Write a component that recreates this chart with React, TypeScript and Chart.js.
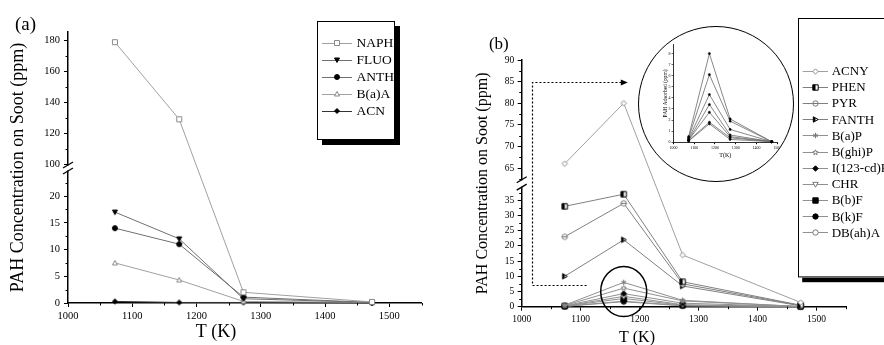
import React, { useEffect, useRef } from 'react';
import { Chart, registerables } from 'chart.js';

Chart.register(...registerables);

const SERIF = "'Liberation Serif', 'Times New Roman', Times, serif";
Chart.defaults.color = '#000';
Chart.defaults.font.family = SERIF;

// ---------------- data ----------------
const TEMPS = [1073, 1173, 1273, 1473];

// panel (a)
const NAPH = [179, 129, 2, 0.2];
const FLUO = [17, 12, 0.8, 0.1];
const ANTH = [14, 11, 1.1, 0.1];
const BAA = [7.5, 4.3, 0.3, 0.1];
const ACN = [0.3, 0.1, 0.1, 0];

// panel (b)
const ACNY = [66, 80, 17, 1.4];
const PHEN = [33, 37, 8.2, 0.5];
const PYR = [23, 34, 7.5, 0.4];
const FANTH = [10, 22, 6.8, 0.3];
const BAP = [0.5, 8.0, 2.1, 0.05];
const BGHIP = [0.4, 6.1, 1.9, 0.05];
const I123P = [0.3, 4.3, 1.15, 0.05];
const CHR = [0.2, 3.4, 0.65, 0.05];
const BBF = [0.2, 2.7, 0.5, 0.05];
const BKF = [0.15, 1.8, 0.4, 0.05];
const DBAHA = [0.1, 1.66, 0.25, 0.05];

// ticks
const X_TICKS = [1000, 1100, 1200, 1300, 1400, 1500];
const X_MINOR = [1050, 1150, 1250, 1350, 1450, 1550];
const Y_TICKS_A = [0, 5, 10, 15, 20, 100, 120, 140, 160, 180];
const Y_MINOR_A = [2.5, 7.5, 12.5, 17.5, 22.5, 110, 130, 150, 170];
const Y_TICKS_B = [0, 5, 10, 15, 20, 25, 30, 35, 65, 70, 75, 80, 85, 90];
const Y_MINOR_B = [2.5, 7.5, 12.5, 17.5, 22.5, 27.5, 32.5, 37.5, 62.5, 67.5, 72.5, 77.5, 82.5, 87.5];
const INSET_X_TICKS = [1000, 1100, 1200, 1300, 1400, 1500];
const INSET_Y_TICKS = [0, 1, 2, 3, 4, 5, 6, 7, 8];

// broken axis definitions (value ranges of the two segments)
const BRK_A = { lowMax: 24.5, highMin: 100, highMax: 185.6, lowFrac: 0.4834, gapFrac: 0.0295 };
const BRK_B = { lowMax: 39, highMin: 62.5, highMax: 90, lowFrac: 0.4807, gapFrac: 0.0377 };

// annotations of panel (b), in data units
const ARROW_B = { xStart: 1110, xLeft: 1018, yBottom: 7, yTop: 85, xTip: 1180 };
const RING_B = { x: 1173, y: 5, rx: 23, ry: 25 };

type Series = { label: string; data: number[]; marker: string; color: string; line: string };

const SERIES_A: Series[] = [
  { label: 'NAPH', data: NAPH, marker: 'sq', color: '#8a8a8a', line: '#a0a0a0' },
  { label: 'FLUO', data: FLUO, marker: 'triDF', color: '#000', line: '#707070' },
  { label: 'ANTH', data: ANTH, marker: 'ciF', color: '#000', line: '#707070' },
  { label: 'B(a)A', data: BAA, marker: 'tri', color: '#8a8a8a', line: '#a0a0a0' },
  { label: 'ACN', data: ACN, marker: 'diaF', color: '#000', line: '#333333' },
];

const SERIES_B: Series[] = [
  { label: 'ACNY', data: ACNY, marker: 'dia', color: '#8a8a8a', line: '#a0a0a0' },
  { label: 'PHEN', data: PHEN, marker: 'sqH', color: '#000', line: '#808080' },
  { label: 'PYR', data: PYR, marker: 'ciBar', color: '#777', line: '#808080' },
  { label: 'FANTH', data: FANTH, marker: 'triRH', color: '#000', line: '#808080' },
  { label: 'B(a)P', data: BAP, marker: 'ast', color: '#777', line: '#909090' },
  { label: 'B(ghi)P', data: BGHIP, marker: 'star', color: '#777', line: '#909090' },
  { label: 'I(123-cd)P', data: I123P, marker: 'diaF', color: '#000', line: '#909090' },
  { label: 'CHR', data: CHR, marker: 'triD', color: '#777', line: '#909090' },
  { label: 'B(b)F', data: BBF, marker: 'sqF', color: '#000', line: '#909090' },
  { label: 'B(k)F', data: BKF, marker: 'ciF', color: '#000', line: '#909090' },
  { label: 'DB(ah)A', data: DBAHA, marker: 'ci', color: '#777', line: '#909090' },
];

const INSET_SERIES = [BAP, BGHIP, I123P, CHR, BBF, BKF, DBAHA];

// ---------------- helpers ----------------
function paintMarker(ctx: CanvasRenderingContext2D, k: string, cx: number, cy: number, r: number, col: string) {
  ctx.save();
  ctx.lineWidth = 1;
  ctx.strokeStyle = col;
  const filled = k.endsWith('F');
  ctx.beginPath();
  if (k.startsWith('sq')) ctx.rect(cx - r, cy - r, 2 * r, 2 * r);
  else if (k.startsWith('ci')) ctx.arc(cx, cy, r, 0, Math.PI * 2);
  else if (k === 'tri') {
    ctx.moveTo(cx, cy - r); ctx.lineTo(cx + r, cy + r * 0.8); ctx.lineTo(cx - r, cy + r * 0.8); ctx.closePath();
  } else if (k.startsWith('triD')) {
    ctx.moveTo(cx, cy + r); ctx.lineTo(cx + r, cy - r * 0.8); ctx.lineTo(cx - r, cy - r * 0.8); ctx.closePath();
  } else if (k === 'triRH') {
    ctx.moveTo(cx + r, cy); ctx.lineTo(cx - r * 0.8, cy - r); ctx.lineTo(cx - r * 0.8, cy + r); ctx.closePath();
  } else if (k.startsWith('dia')) {
    ctx.moveTo(cx, cy - r); ctx.lineTo(cx + r, cy); ctx.lineTo(cx, cy + r); ctx.lineTo(cx - r, cy); ctx.closePath();
  } else if (k === 'star') {
    for (let i = 0; i < 10; i++) {
      const a = -Math.PI / 2 + (i * Math.PI) / 5;
      const rr = i % 2 === 0 ? r : r * 0.45;
      const px = cx + rr * Math.cos(a);
      const py = cy + rr * Math.sin(a);
      if (i === 0) ctx.moveTo(px, py); else ctx.lineTo(px, py);
    }
    ctx.closePath();
  }
  if (k === 'ast') {
    for (const deg of [90, 30, 150]) {
      const a = (deg * Math.PI) / 180;
      ctx.moveTo(cx - r * Math.cos(a), cy - r * Math.sin(a));
      ctx.lineTo(cx + r * Math.cos(a), cy + r * Math.sin(a));
    }
    ctx.stroke();
  } else {
    ctx.fillStyle = filled ? col : '#fff';
    ctx.fill();
    ctx.stroke();
    if (k === 'sqH' || k === 'triRH') {
      ctx.save();
      ctx.clip();
      ctx.fillStyle = col;
      ctx.fillRect(cx - r - 1, cy - r - 1, r + 1, 2 * r + 2);
      ctx.restore();
    }
    if (k === 'ciBar') {
      ctx.beginPath(); ctx.moveTo(cx - r, cy); ctx.lineTo(cx + r, cy); ctx.stroke();
    }
  }
  ctx.restore();
}

function markerCanvas(kind: string, r: number, col: string) {
  const s = Math.ceil(2 * r + 3);
  const c = document.createElement('canvas');
  c.width = s; c.height = s;
  const ctx = c.getContext('2d')!;
  paintMarker(ctx, kind, s / 2, s / 2, r, col);
  return c;
}

function brokenPixel(s: any, v: number, b: typeof BRK_A) {
  let f: number;
  if (v <= b.lowMax) f = (v / b.lowMax) * b.lowFrac;
  else if (v >= b.highMin) f = b.lowFrac + b.gapFrac + ((v - b.highMin) / (b.highMax - b.highMin)) * (1 - b.lowFrac - b.gapFrac);
  else f = b.lowFrac + (b.gapFrac * (v - b.lowMax)) / (b.highMin - b.lowMax);
  return s.bottom - f * (s.bottom - s.top);
}

function drawMinor(ctx: CanvasRenderingContext2D, xs: any, ys: any, xm: number[], ym: number[], len: number) {
  ctx.save();
  ctx.strokeStyle = '#000';
  ctx.lineWidth = 1;
  ctx.beginPath();
  for (const v of xm) {
    const px = Math.round(xs.getPixelForValue(v)) + 0.5;
    ctx.moveTo(px, xs.top); ctx.lineTo(px, xs.top + len);
  }
  for (const v of ym) {
    const py = Math.round(ys.getPixelForValue(v)) + 0.5;
    ctx.moveTo(ys.right, py); ctx.lineTo(ys.right - len, py);
  }
  ctx.stroke();
  ctx.restore();
}

function drawBreak(ctx: CanvasRenderingContext2D, ys: any, b: typeof BRK_A) {
  const ax = ys.right;
  const yLo = ys.getPixelForValue(b.lowMax);
  const yHi = ys.getPixelForValue(b.highMin);
  ctx.save();
  ctx.fillStyle = '#fff';
  ctx.fillRect(ax - 3, yHi + 1.5, 6, yLo - yHi - 3);
  ctx.strokeStyle = '#000';
  ctx.lineWidth = 1.3;
  for (const yy of [yHi + 1, yLo - 1]) {
    ctx.beginPath(); ctx.moveTo(ax - 5, yy + 3); ctx.lineTo(ax + 5, yy - 3); ctx.stroke();
  }
  ctx.restore();
}

type Leg = { x: number; y: number; w: number; h: number; sh: number; l0: number; l1: number; m: number; t: number; y0: number; dy: number; font: number };

function drawLegend(ctx: CanvasRenderingContext2D, series: Series[], L: Leg, marks: HTMLCanvasElement[]) {
  ctx.save();
  ctx.fillStyle = '#000';
  ctx.fillRect(L.x + L.sh, L.y + L.sh, L.w, L.h);
  ctx.fillStyle = '#fff';
  ctx.fillRect(L.x, L.y, L.w, L.h);
  ctx.strokeStyle = '#000';
  ctx.lineWidth = 1;
  ctx.strokeRect(Math.round(L.x) + 0.5, Math.round(L.y) + 0.5, L.w - 1, L.h - 1);
  ctx.font = `${L.font}px ${SERIF}`;
  ctx.textBaseline = 'middle';
  ctx.textAlign = 'left';
  series.forEach((s, i) => {
    const y = L.y0 + i * L.dy;
    ctx.strokeStyle = s.line;
    ctx.beginPath();
    ctx.moveTo(L.l0, Math.round(y) + 0.5);
    ctx.lineTo(L.l1, Math.round(y) + 0.5);
    ctx.stroke();
    const m = marks[i];
    ctx.drawImage(m, Math.round(L.m - m.width / 2), Math.round(y + 0.5 - m.height / 2));
    ctx.fillStyle = '#000';
    ctx.fillText(s.label, L.t, y + 1);
  });
  ctx.restore();
}

function text(ctx: CanvasRenderingContext2D, s: string, x: number, y: number, size: number) {
  ctx.save();
  ctx.font = `${size}px ${SERIF}`;
  ctx.fillStyle = '#000';
  ctx.textAlign = 'center';
  ctx.textBaseline = 'middle';
  ctx.fillText(s, x, y);
  ctx.restore();
}

function makeDatasets(series: Series[], marks: HTMLCanvasElement[]) {
  return series.map((s, i) => ({
    label: s.label,
    data: TEMPS.map((t, j) => ({ x: t, y: s.data[j] })),
    borderColor: s.line,
    borderWidth: 1,
    pointStyle: marks[i],
    pointRadius: 3,
    pointHoverRadius: 3,
    tension: 0,
    fill: false,
    clip: false as any,
  }));
}

function xOpt(size: number, height: number, pad: number, ticks: number[], min: number, max: number, tl: number, bw: number, title?: any) {
  return {
    type: 'linear',
    min, max,
    afterBuildTicks: (s: any) => { s.ticks = ticks.map((v) => ({ value: v })); },
    afterFit: (s: any) => { s.height = height; },
    ticks: { autoSkip: false, maxRotation: 0, font: { size, family: SERIF }, color: '#000', padding: pad, callback: (v: any) => String(v) },
    grid: { drawOnChartArea: false, drawTicks: true, tickLength: tl, color: '#000', tickColor: '#000', tickWidth: 1 },
    border: { display: true, color: '#000', width: bw },
    title: title || { display: false },
  };
}

function yBrokenOpt(b: typeof BRK_A, ticks: number[], size: number, width: number, pad: number, title: any) {
  return {
    type: 'linear',
    min: 0,
    max: b.highMax,
    afterBuildTicks: (s: any) => {
      s.ticks = ticks.map((v) => ({ value: v }));
      s.getPixelForValue = (v: number) => brokenPixel(s, v, b);
    },
    afterFit: (s: any) => { s.width = width; },
    ticks: { autoSkip: false, font: { size, family: SERIF }, color: '#000', padding: pad, callback: (v: any) => String(v) },
    grid: { drawOnChartArea: false, drawTicks: true, tickLength: 4, color: '#000', tickColor: '#000', tickWidth: 1 },
    border: { display: true, color: '#000', width: 1.5 },
    title,
  };
}

const LEG_A: Leg = { x: 317, y: 21, w: 78, h: 119, sh: 5, l0: 322, l1: 352, m: 337, t: 356.5, y0: 42.7, dy: 17, font: 13.5 };
const LEG_B: Leg = { x: 357.7, y: 18.3, w: 140, h: 259.4, sh: 4.5, l0: 362.7, l1: 388, m: 375.3, t: 391.7, y0: 70.7, dy: 16.17, font: 13 };

export default function App() {
  const refA = useRef<HTMLCanvasElement>(null);
  const refB = useRef<HTMLCanvasElement>(null);
  const refC = useRef<HTMLCanvasElement>(null);

  useEffect(() => {
    const marksA = SERIES_A.map((s) => markerCanvas(s.marker, 2.5, s.color));
    const marksB = SERIES_B.map((s) => markerCanvas(s.marker, 2.7, s.color));

    const decorA = {
      id: 'decorA',
      afterDraw(chart: any) {
        const ctx = chart.ctx;
        const xs = chart.scales.x;
        const ys = chart.scales.y;
        drawMinor(ctx, xs, ys, X_MINOR, Y_MINOR_A, 2.5);
        drawBreak(ctx, ys, BRK_A);
        drawLegend(ctx, SERIES_A, LEG_A, marksA);
        text(ctx, '(a)', 25.5, 25, 19);
        text(ctx, 'T (K)', 216, 332, 18);
      },
    };

    const decorB = {
      id: 'decorB',
      afterDraw(chart: any) {
        const ctx = chart.ctx;
        const xs = chart.scales.x;
        const ys = chart.scales.y;
        drawMinor(ctx, xs, ys, X_MINOR, Y_MINOR_B, 2.5);
        drawBreak(ctx, ys, BRK_B);
        // dotted arrow
        const xS = xs.getPixelForValue(ARROW_B.xStart);
        const xL = xs.getPixelForValue(ARROW_B.xLeft);
        const xT = xs.getPixelForValue(ARROW_B.xTip);
        const yB = Math.round(ys.getPixelForValue(ARROW_B.yBottom)) + 0.5;
        const yT = Math.round(ys.getPixelForValue(ARROW_B.yTop)) + 0.5;
        ctx.save();
        ctx.strokeStyle = '#000';
        ctx.lineWidth = 1.2;
        ctx.setLineDash([2, 2]);
        ctx.beginPath();
        ctx.moveTo(xS, yB);
        ctx.lineTo(Math.round(xL) + 0.5, yB);
        ctx.lineTo(Math.round(xL) + 0.5, yT);
        ctx.lineTo(xT - 6, yT);
        ctx.stroke();
        ctx.setLineDash([]);
        ctx.fillStyle = '#000';
        ctx.beginPath();
        ctx.moveTo(xT, yT);
        ctx.lineTo(xT - 7, yT - 3);
        ctx.lineTo(xT - 7, yT + 3);
        ctx.closePath();
        ctx.fill();
        // ring around the small PAHs
        ctx.lineWidth = 1.5;
        ctx.beginPath();
        ctx.ellipse(xs.getPixelForValue(RING_B.x), ys.getPixelForValue(RING_B.y), RING_B.rx, RING_B.ry, 0, 0, Math.PI * 2);
        ctx.stroke();
        ctx.restore();
        drawLegend(ctx, SERIES_B, LEG_B, marksB);
        text(ctx, '(b)', 58.8, 44.5, 17);
        text(ctx, 'T (K)', 197, 338, 16);
      },
    };

    const decorC = {
      id: 'decorC',
      afterDraw(chart: any) {
        text(chart.ctx, '(c)', 28, 13.5, 5);
      },
    };

    const a = new Chart(refA.current!, {
      type: 'line',
      data: { datasets: makeDatasets(SERIES_A, marksA) as any },
      options: {
        responsive: false,
        animation: false,
        events: [],
        layout: { padding: { left: 0, top: 32, right: 18.5, bottom: 0 } },
        plugins: { legend: { display: false }, tooltip: { enabled: false } },
        scales: {
          x: xOpt(10.5, 42, 3, X_TICKS, 1000, 1550, 4, 1.5) as any,
          y: yBrokenOpt(BRK_A, Y_TICKS_A, 10.5, 68, 4, {
            display: true, text: 'PAH Concentration on Soot (ppm)', color: '#000',
            font: { size: 18, family: SERIF }, padding: { top: 7.5, bottom: 0 },
          }) as any,
        },
      },
      plugins: [decorA],
    });

    const b = new Chart(refB.current!, {
      type: 'line',
      data: { datasets: makeDatasets(SERIES_B, marksB) as any },
      options: {
        responsive: false,
        animation: false,
        events: [],
        layout: { padding: { left: 0, top: 60, right: 38, bottom: 0 } },
        plugins: { legend: { display: false }, tooltip: { enabled: false } },
        scales: {
          x: xOpt(9.5, 38.3, 3, X_TICKS, 1000, 1550, 4, 1.5) as any,
          y: yBrokenOpt(BRK_B, Y_TICKS_B, 9.5, 81.7, 3.5, {
            display: true, text: 'PAH Concentration on Soot (ppm)', color: '#000',
            font: { size: 16, family: SERIF }, padding: { top: 32.9, bottom: 0 },
          }) as any,
        },
      },
      plugins: [decorB],
    });

    const c = new Chart(refC.current!, {
      type: 'line',
      data: {
        datasets: INSET_SERIES.map((d) => ({
          data: TEMPS.map((t, j) => ({ x: t, y: d[j] })),
          borderColor: '#6a6a6a',
          borderWidth: 0.8,
          pointStyle: 'circle',
          pointRadius: 1.1,
          pointBackgroundColor: '#000',
          pointBorderColor: '#000',
          pointBorderWidth: 0.5,
          tension: 0,
          clip: false as any,
        })) as any,
      },
      options: {
        responsive: false,
        animation: false,
        events: [],
        layout: { padding: { left: 0, top: 17.5, right: 14.8, bottom: 0 } },
        plugins: { legend: { display: false }, tooltip: { enabled: false } },
        scales: {
          x: xOpt(4, 37.8, 1, INSET_X_TICKS, 1000, 1500, 2, 0.8, {
            display: true, text: 'T(K)', color: '#000', font: { size: 6, family: SERIF }, padding: { top: 0, bottom: 20.9 },
          }) as any,
          y: {
            type: 'linear',
            min: 0,
            max: 8.82,
            afterBuildTicks: (s: any) => { s.ticks = INSET_Y_TICKS.map((v) => ({ value: v })); },
            afterFit: (s: any) => { s.width = 34.5; },
            ticks: { autoSkip: false, font: { size: 4, family: SERIF }, color: '#000', padding: 1, callback: (v: any) => String(v) },
            grid: { drawOnChartArea: false, drawTicks: true, tickLength: 2, color: '#000', tickColor: '#000', tickWidth: 0.6 },
            border: { display: true, color: '#000', width: 0.8 },
            title: { display: true, text: 'PAH Adsorbed (ppm)', color: '#000', font: { size: 5.5, family: SERIF }, padding: { top: 23.2, bottom: 0 } },
          } as any,
        },
      },
      plugins: [decorC],
    });

    return () => { a.destroy(); b.destroy(); c.destroy(); };
  }, []);

  return (
    <div style={{ position: 'absolute', left: 0, top: 0, width: 884, height: 345, background: '#fff', overflow: 'hidden' }}>
      <canvas ref={refA} width={440} height={345} style={{ position: 'absolute', left: 0, top: 0 }} />
      <canvas ref={refB} width={444} height={345} style={{ position: 'absolute', left: 440, top: 0 }} />
      <div
        style={{
          position: 'absolute', left: 638, top: 26, width: 156, height: 156, boxSizing: 'border-box',
          border: '1.5px solid #000', borderRadius: '50%', overflow: 'hidden', background: '#fff',
        }}
      >
        <canvas ref={refC} width={153} height={153} style={{ position: 'absolute', left: 0, top: 0 }} />
      </div>
    </div>
  );
}
